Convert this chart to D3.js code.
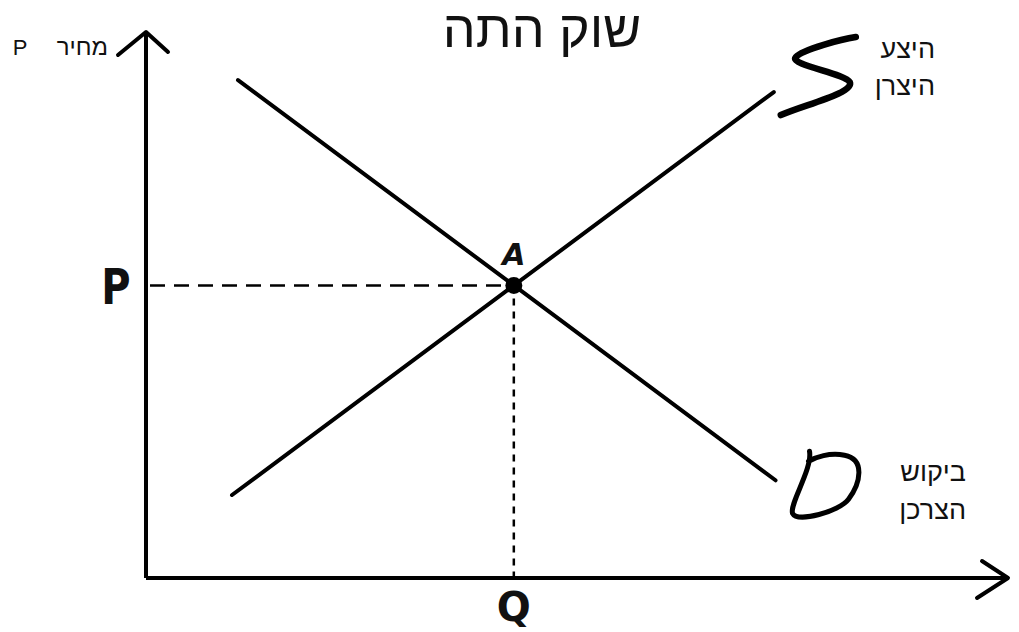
<!DOCTYPE html>
<html>
<head>
<meta charset="utf-8">
<script src="https://cdn.jsdelivr.net/npm/d3@7"></script>
<style>
  body { margin: 0; background: #fff; }
  text { font-family: "Liberation Sans", "DejaVu Sans", sans-serif; fill: #111; }
  .hand { font-family: "DejaVu Sans", sans-serif; font-weight: bold; }
</style>
</head>
<body>
<div id="chart"></div>
<script>
// values (quantity / price on a 0..100 scale)
const supplyQ = [10, 73];
const supplyP = [15.2, 89];
const demandQ = [10.7, 73.2];
const demandP = [91.2, 17.9];
const title = 'שוק התה';
const supplyLabel = ['היצע', 'היצרן'];
const demandLabel = ['ביקוש', 'הצרכן'];
const priceLabel = 'מחיר';

const width = 1019;
const height = 632;

const svg = d3.select('#chart').append('svg')
  .attr('width', width)
  .attr('height', height);

const x = d3.scaleLinear().domain([0, 100]).range([146, 1006]);
const y = d3.scaleLinear().domain([0, 100]).range([578, 32]);

const line = d3.line().x(d => x(d[0])).y(d => y(d[1]));
const supply = d3.zip(supplyQ, supplyP);
const demand = d3.zip(demandQ, demandP);

// equilibrium = intersection of both lines
const ms = (supplyP[1] - supplyP[0]) / (supplyQ[1] - supplyQ[0]);
const md = (demandP[1] - demandP[0]) / (demandQ[1] - demandQ[0]);
const eqQ = (demandP[0] - md * demandQ[0] - supplyP[0] + ms * supplyQ[0]) / (ms - md);
const eqP = supplyP[0] + ms * (eqQ - supplyQ[0]);

const sw = 4;

// axes
svg.append('line')
  .attr('x1', x(0)).attr('y1', y(0)).attr('x2', x(0)).attr('y2', y(100))
  .attr('stroke', '#000').attr('stroke-width', sw);
svg.append('line')
  .attr('x1', x(0)).attr('y1', y(0)).attr('x2', x(100)).attr('y2', y(0))
  .attr('stroke', '#000').attr('stroke-width', sw);

// arrow heads
svg.append('path')
  .attr('d', `M ${x(0) - 28} ${y(100) + 23} L ${x(0)} ${y(100)} L ${x(0) + 22} ${y(100) + 20}`)
  .attr('fill', 'none').attr('stroke', '#000').attr('stroke-width', sw)
  .attr('stroke-linecap', 'round').attr('stroke-linejoin', 'round');
svg.append('path')
  .attr('d', `M ${x(100) - 24} ${y(0) - 17} L ${x(100) + 2} ${y(0)} L ${x(100) - 29} ${y(0) + 20}`)
  .attr('fill', 'none').attr('stroke', '#000').attr('stroke-width', sw)
  .attr('stroke-linecap', 'round').attr('stroke-linejoin', 'round');

// guide lines
svg.append('line')
  .attr('x1', x(0) + 4).attr('y1', y(eqP)).attr('x2', x(eqQ)).attr('y2', y(eqP))
  .attr('stroke', '#000').attr('stroke-width', 2.5).attr('stroke-dasharray', '15 9');
svg.append('line')
  .attr('x1', x(eqQ)).attr('y1', y(eqP)).attr('x2', x(eqQ)).attr('y2', y(0) - 2)
  .attr('stroke', '#000').attr('stroke-width', 2.5).attr('stroke-dasharray', '7 6');

// supply & demand
[supply, demand].forEach(d => {
  svg.append('path')
    .attr('d', line(d))
    .attr('fill', 'none').attr('stroke', '#000').attr('stroke-width', sw)
    .attr('stroke-linecap', 'round');
});

svg.append('circle')
  .attr('cx', x(eqQ)).attr('cy', y(eqP)).attr('r', 8.5).attr('fill', '#000');

// hand drawn S and D next to the line ends
const sx = x(supplyQ[1]) + 7;
const sy = y(supplyP[1]) - 57;
svg.append('path')
  .attr('transform', `translate(${sx},${sy})`)
  .attr('d', 'M 75 2 C 62 4 22 14 15 22 C 8 30 64 38 69 47 C 74 58 22 70 0 80')
  .attr('fill', 'none').attr('stroke', '#000').attr('stroke-width', 6.5)
  .attr('stroke-linecap', 'round').attr('stroke-linejoin', 'round');

const dx = x(demandQ[1]) + 12;
const dy = y(demandP[1]) - 29;
svg.append('path')
  .attr('transform', `translate(${dx},${dy})`)
  .attr('d', 'M 22 0 C 25 18 2 52 5 62 C 10 72 52 60 61 48 C 73 32 78 8 57 4 C 42 1 28 6 21 10')
  .attr('fill', 'none').attr('stroke', '#000').attr('stroke-width', 5)
  .attr('stroke-linecap', 'round').attr('stroke-linejoin', 'round');

// letters
svg.append('text').attr('class', 'hand')
  .attr('x', x(0) - 30).attr('y', y(eqP) + 19)
  .attr('text-anchor', 'middle').attr('font-size', 50)
  .attr('transform', `translate(${x(0) - 30},${y(eqP)}) scale(0.8,1) translate(${-(x(0) - 30)},${-y(eqP)})`)
  .text('P');
svg.append('text').attr('class', 'hand')
  .attr('x', x(eqQ)).attr('y', y(0) + 43)
  .attr('text-anchor', 'middle').attr('font-size', 40)
  .text('Q');
svg.append('text').attr('class', 'hand')
  .attr('x', x(eqQ)).attr('y', y(eqP) - 20)
  .attr('text-anchor', 'middle').attr('font-size', 30)
  .attr('font-style', 'italic')
  .text('A');

// texts
svg.append('text')
  .attr('x', 542).attr('y', 47)
  .attr('text-anchor', 'middle').attr('font-size', 52)
  .text(title);

svg.append('text')
  .attr('x', 108).attr('y', 55)
  .attr('text-anchor', 'end').attr('font-size', 24)
  .text(priceLabel);
svg.append('text')
  .attr('x', 20).attr('y', 55)
  .attr('text-anchor', 'middle').attr('font-size', 22)
  .text('P');

svg.selectAll('text.sup')
  .data(supplyLabel)
  .join('text')
  .attr('class', 'sup')
  .attr('x', 935).attr('y', (d, i) => 58 + i * 37)
  .attr('text-anchor', 'end').attr('font-size', 27)
  .text(d => d);

svg.selectAll('text.dem')
  .data(demandLabel)
  .join('text')
  .attr('class', 'dem')
  .attr('x', 966).attr('y', (d, i) => 481 + i * 38)
  .attr('text-anchor', 'end').attr('font-size', 27)
  .text(d => d);
</script>
</body>
</html>
